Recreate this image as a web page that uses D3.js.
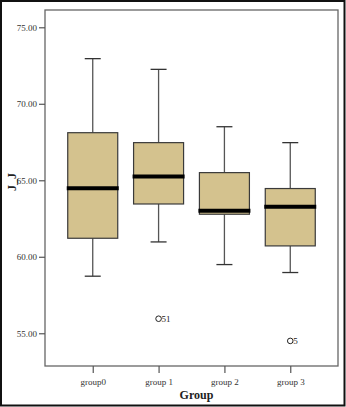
<!DOCTYPE html>
<html>
<head>
<meta charset="utf-8">
<script src="https://cdn.jsdelivr.net/npm/d3@7"></script>
<style>
  html, body { margin: 0; padding: 0; background: #fff; }
  svg { display: block; }
</style>
</head>
<body>
<svg id="chart" width="346" height="407"></svg>
<script>
// Box plot summary of J_J by group
const groups = ["group0", "group 1", "group 2", "group 3"];
const whiskerLow = [58.73, 60.97, 59.49, 58.97];
const q1 = [61.21, 63.45, 62.78, 60.71];
const median = [64.48, 65.24, 63.0, 63.27];
const q3 = [68.11, 67.46, 65.5, 64.46];
const whiskerHigh = [72.95, 72.25, 68.5, 67.46];
const outliers = [
  { group: "group 1", value: 55.95, label: "51" },
  { group: "group 3", value: 54.5, label: "5" }
];
const yTicks = [55, 60, 65, 70, 75];

const svg = d3.select("#chart");
const W = 346, H = 407;
const plot = { left: 45, top: 10, right: 338, bottom: 366 };

// outer frame
svg.append("rect")
  .attr("x", 1).attr("y", 1).attr("width", W - 2.5).attr("height", H - 2.5)
  .attr("fill", "#fff").attr("stroke", "#111").attr("stroke-width", 2);

const y = d3.scaleLinear().domain([52.86, 76.13]).range([plot.bottom, plot.top]);
const x = d3.scalePoint().domain(groups).range([plot.left, plot.right]).padding(0.725);

const serif = "'Liberation Serif', 'DejaVu Serif', serif";

// plot frame
svg.append("rect")
  .attr("x", plot.left).attr("y", plot.top)
  .attr("width", plot.right - plot.left).attr("height", plot.bottom - plot.top)
  .attr("fill", "none").attr("stroke", "#666").attr("stroke-width", 1.3);

// y axis
const yAxis = svg.append("g")
  .attr("transform", `translate(${plot.left},0)`)
  .call(d3.axisLeft(y).tickValues(yTicks).tickFormat(d3.format(".2f")).tickSize(6).tickPadding(2));
yAxis.select(".domain").remove();
yAxis.selectAll(".tick line").attr("stroke", "#555").attr("stroke-width", 1.2);
yAxis.selectAll(".tick text").attr("font-family", serif).attr("font-size", 9).attr("fill", "#333");

// x axis
const xAxis = svg.append("g")
  .attr("transform", `translate(0,${plot.bottom})`)
  .call(d3.axisBottom(x).tickSize(7).tickPadding(6));
xAxis.select(".domain").remove();
xAxis.selectAll(".tick line").attr("stroke", "#555").attr("stroke-width", 1.2);
xAxis.selectAll(".tick text").attr("font-family", serif).attr("font-size", 9).attr("fill", "#333");

// boxes
const boxW = 50, capW = 16;
const data = groups.map((g, i) => ({
  g, lo: whiskerLow[i], q1: q1[i], med: median[i], q3: q3[i], hi: whiskerHigh[i]
}));

const box = svg.append("g").selectAll("g").data(data).join("g")
  .attr("transform", d => `translate(${x(d.g)},0)`);

// whiskers
box.append("line").attr("x1", 0).attr("x2", 0)
  .attr("y1", d => y(d.hi)).attr("y2", d => y(d.q3))
  .attr("stroke", "#555").attr("stroke-width", 1.3);
box.append("line").attr("x1", 0).attr("x2", 0)
  .attr("y1", d => y(d.q1)).attr("y2", d => y(d.lo))
  .attr("stroke", "#555").attr("stroke-width", 1.3);
box.append("line").attr("x1", -capW / 2).attr("x2", capW / 2)
  .attr("y1", d => y(d.hi)).attr("y2", d => y(d.hi))
  .attr("stroke", "#333").attr("stroke-width", 1.3);
box.append("line").attr("x1", -capW / 2).attr("x2", capW / 2)
  .attr("y1", d => y(d.lo)).attr("y2", d => y(d.lo))
  .attr("stroke", "#333").attr("stroke-width", 1.3);

// IQR box
box.append("rect")
  .attr("x", -boxW / 2).attr("width", boxW)
  .attr("y", d => y(d.q3)).attr("height", d => y(d.q1) - y(d.q3))
  .attr("fill", "#d4c28e").attr("stroke", "#3a3a3a").attr("stroke-width", 1.2);

// median
box.append("line").attr("x1", -boxW / 2 - 1).attr("x2", boxW / 2 + 1)
  .attr("y1", d => y(d.med)).attr("y2", d => y(d.med))
  .attr("stroke", "#000").attr("stroke-width", 4);

// outliers
const out = svg.append("g").selectAll("g").data(outliers).join("g")
  .attr("transform", d => `translate(${x(d.group)},${y(d.value)})`);
out.append("circle").attr("r", 2.8)
  .attr("fill", "none").attr("stroke", "#222").attr("stroke-width", 1);
out.append("text").attr("x", 3).attr("y", 3)
  .attr("font-family", serif).attr("font-size", 9).attr("fill", "#222")
  .text(d => d.label);

// axis titles
svg.append("text")
  .attr("x", (plot.left + plot.right) / 2 + 5).attr("y", 399)
  .attr("text-anchor", "middle")
  .attr("font-family", serif).attr("font-size", 12).attr("font-weight", "bold")
  .attr("fill", "#222").text("Group");

svg.append("text")
  .attr("transform", `translate(15.5,182) rotate(-90)`)
  .attr("text-anchor", "middle")
  .attr("font-family", serif).attr("font-size", 12).attr("font-weight", "bold")
  .attr("fill", "#222").text("J_J");
</script>
</body>
</html>
